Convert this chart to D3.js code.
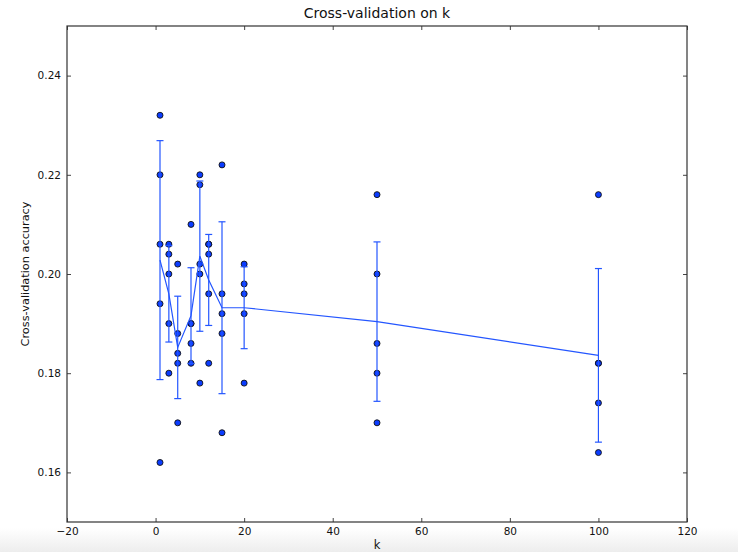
<!DOCTYPE html>
<html>
<head>
<meta charset="utf-8">
<script src="https://cdn.jsdelivr.net/npm/d3@7"></script>
<style>
  html, body { margin: 0; padding: 0; background: #fff; }
  svg { display: block; font-family: "DejaVu Sans", sans-serif; }
</style>
</head>
<body>
<div id="chart"></div>
<script>
// k values tried in cross-validation
const kChoices = [1, 3, 5, 8, 10, 12, 15, 20, 50, 100]

// fold accuracies for each k (5 folds)
const acc1   = [0.232, 0.220, 0.206, 0.194, 0.162]
const acc3   = [0.206, 0.204, 0.200, 0.190, 0.180]
const acc5   = [0.202, 0.188, 0.184, 0.182, 0.170]
const acc8   = [0.210, 0.190, 0.190, 0.186, 0.182]
const acc10  = [0.220, 0.218, 0.202, 0.200, 0.178]
const acc12  = [0.206, 0.206, 0.204, 0.196, 0.182]
const acc15  = [0.222, 0.196, 0.192, 0.188, 0.168]
const acc20  = [0.202, 0.198, 0.196, 0.192, 0.178]
const acc50  = [0.216, 0.200, 0.186, 0.180, 0.170]
const acc100 = [0.216, 0.182, 0.182, 0.174, 0.164]
const foldAcc = [acc1, acc3, acc5, acc8, acc10, acc12, acc15, acc20, acc50, acc100]

const xTicks = [-20, 0, 20, 40, 60, 80, 100, 120]
const yTicks = [0.16, 0.18, 0.20, 0.22, 0.24]

const width = 738, height = 552
const margin = { top: 26, right: 51, bottom: 30, left: 67 }
const innerW = width - margin.left - margin.right
const innerH = height - margin.top - margin.bottom

const svg = d3.select('#chart').append('svg')
  .attr('width', width)
  .attr('height', height)

// light grey band at the bottom of the window
const grad = svg.append('defs').append('linearGradient')
  .attr('id', 'fade').attr('x1', 0).attr('x2', 0).attr('y1', 0).attr('y2', 1)
grad.append('stop').attr('offset', '0%').attr('stop-color', '#ffffff')
grad.append('stop').attr('offset', '100%').attr('stop-color', '#ededed')
svg.append('rect')
  .attr('x', 0).attr('y', 528).attr('width', width).attr('height', height - 528)
  .attr('fill', 'url(#fade)')

const x = d3.scaleLinear().domain([-20, 120]).range([0, innerW])
const y = d3.scaleLinear().domain([0.15, 0.25]).range([innerH, 0])

const g = svg.append('g')
  .attr('transform', `translate(${margin.left},${margin.top})`)

// stats per k
const means = foldAcc.map(a => d3.mean(a))
const stds = foldAcc.map(a => {
  const m = d3.mean(a)
  return Math.sqrt(d3.mean(a, v => (v - m) * (v - m)))
})
const stats = kChoices.map((k, i) => ({ k, mean: means[i], std: stds[i] }))

const points = []
kChoices.forEach((k, i) => foldAcc[i].forEach(v => points.push({ k, v })))

const markerFill = '#0b3cff'
const lineColor = '#2456ff'

// scatter of fold accuracies
g.selectAll('circle.pt')
  .data(points)
  .join('circle')
    .attr('class', 'pt')
    .attr('cx', d => x(d.k))
    .attr('cy', d => y(d.v))
    .attr('r', 3)
    .attr('fill', markerFill)
    .attr('stroke', '#111')
    .attr('stroke-width', 0.9)

// mean line
g.append('path')
  .datum(stats)
  .attr('fill', 'none')
  .attr('stroke', lineColor)
  .attr('stroke-width', 1.2)
  .attr('d', d3.line().x(d => x(d.k)).y(d => y(d.mean)))

// error bars
const eb = g.selectAll('g.eb')
  .data(stats)
  .join('g')
    .attr('class', 'eb')
    .attr('stroke', lineColor)
    .attr('stroke-width', 1.2)

eb.append('line')
  .attr('x1', d => x(d.k)).attr('x2', d => x(d.k))
  .attr('y1', d => y(d.mean - d.std)).attr('y2', d => y(d.mean + d.std))
eb.append('line')
  .attr('x1', d => x(d.k) - 3.5).attr('x2', d => x(d.k) + 3.5)
  .attr('y1', d => y(d.mean + d.std)).attr('y2', d => y(d.mean + d.std))
eb.append('line')
  .attr('x1', d => x(d.k) - 3.5).attr('x2', d => x(d.k) + 3.5)
  .attr('y1', d => y(d.mean - d.std)).attr('y2', d => y(d.mean - d.std))

// axes with inward ticks, matplotlib classic style
const styleAxis = sel => {
  sel.select('.domain').remove()
  sel.selectAll('.tick line').attr('stroke', '#444').attr('stroke-width', 1)
  sel.selectAll('.tick text').attr('fill', '#111').attr('font-size', 10.5)
    .attr('font-family', '"DejaVu Sans", sans-serif')
}

g.append('g')
  .attr('transform', `translate(0,${innerH})`)
  .call(d3.axisBottom(x).tickValues(xTicks).tickSizeInner(-4).tickSizeOuter(0).tickPadding(6)
    .tickFormat(d => d < 0 ? '\u2212' + Math.abs(d) : d))
  .call(styleAxis)

g.append('g')
  .call(d3.axisTop(x).tickValues(xTicks).tickSizeInner(-4).tickSizeOuter(0).tickFormat(''))
  .call(styleAxis)

g.append('g')
  .call(d3.axisLeft(y).tickValues(yTicks).tickSizeInner(-4).tickSizeOuter(0).tickPadding(6)
    .tickFormat(d3.format('.2f')))
  .call(styleAxis)

g.append('g')
  .attr('transform', `translate(${innerW},0)`)
  .call(d3.axisRight(y).tickValues(yTicks).tickSizeInner(-4).tickSizeOuter(0).tickFormat(''))
  .call(styleAxis)

// frame
g.append('rect')
  .attr('width', innerW).attr('height', innerH)
  .attr('fill', 'none').attr('stroke', '#333').attr('stroke-width', 1.2)

// labels
svg.append('text')
  .attr('x', margin.left + innerW / 2).attr('y', 18)
  .attr('text-anchor', 'middle').attr('font-size', 14).attr('fill', '#111')
  .text('Cross-validation on k')

svg.append('text')
  .attr('x', margin.left + innerW / 2).attr('y', 549)
  .attr('text-anchor', 'middle').attr('font-size', 11.5).attr('fill', '#111')
  .text('k')

svg.append('text')
  .attr('transform', `translate(29,${margin.top + innerH / 2}) rotate(-90)`)
  .attr('text-anchor', 'middle').attr('font-size', 11.3).attr('fill', '#111')
  .text('Cross-validation accuracy')
</script>
</body>
</html>
